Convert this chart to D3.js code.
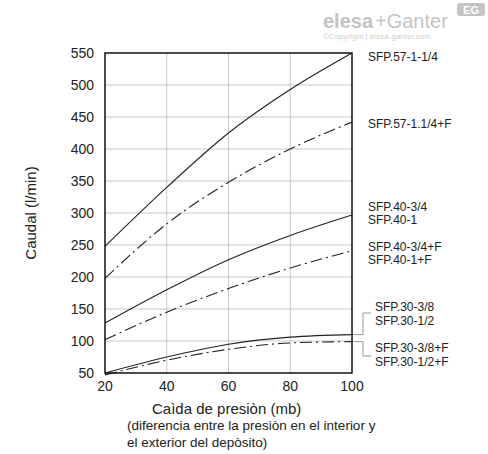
<!DOCTYPE html>
<html><head><meta charset="utf-8">
<script src="https://cdn.jsdelivr.net/npm/d3@7"></script>
<style>
body{margin:0;background:#fff;}
text{font-family:"Liberation Sans Narrow","Liberation Sans",Arial,sans-serif;fill:#222;}
</style></head><body>
<script>
const xs = [20, 40, 60, 80, 100];
const s57 = [248, 340, 425, 493, 550];
const s57F = [198, 283, 348, 400, 442];
const s40 = [128, 180, 227, 265, 297];
const s40F = [102, 145, 182, 214, 241];
const s30 = [50, 75, 95, 106, 110];
const s30F = [47, 70, 87, 97, 99];
const xTicks = [20, 40, 60, 80, 100];
const yTicks = [50, 100, 150, 200, 250, 300, 350, 400, 450, 500, 550];

const svg = d3.select("body").append("svg").attr("width", 488).attr("height", 454);
const x = d3.scaleLinear().domain([20, 100]).range([105, 352]);
const y = d3.scaleLinear().domain([50, 550]).range([373, 53]);

// grid
svg.append("g").selectAll("line").data(xTicks.slice(1, -1)).enter().append("line")
  .attr("x1", d => x(d)).attr("x2", d => x(d)).attr("y1", 53).attr("y2", 373)
  .attr("stroke", "#c8c8c8").attr("stroke-width", 1);
svg.append("g").selectAll("line").data(yTicks.slice(1, -1)).enter().append("line")
  .attr("x1", 105).attr("x2", 352).attr("y1", d => y(d)).attr("y2", d => y(d))
  .attr("stroke", "#c8c8c8").attr("stroke-width", 1);

// leader lines for small series
const lead = [[110, 313], [99, 356]];
lead.forEach(([v, ly]) => {
  svg.append("path").attr("fill", "none").attr("stroke", "#999").attr("stroke-width", 1)
    .attr("d", `M${x(100)},${y(v)}H363V${ly}H371`);
});

const line = d3.line().x((d, i) => x(xs[i])).y(d => y(d)).curve(d3.curveMonotoneX);
const series = [[s57, false], [s57F, true], [s40, false], [s40F, true], [s30, false], [s30F, true]];
series.forEach(([vals, dash]) => {
  svg.append("path").datum(vals).attr("d", line).attr("fill", "none")
    .attr("stroke", "#222").attr("stroke-width", 1.1)
    .attr("stroke-dasharray", dash ? "12,4,2,4" : null);
});

svg.append("rect").attr("x", 105).attr("y", 53).attr("width", 247).attr("height", 320)
  .attr("fill", "none").attr("stroke", "#111").attr("stroke-width", 1.5);

svg.append("g").selectAll("text").data(yTicks).enter().append("text")
  .attr("x", 94).attr("y", d => y(d) + 5).attr("text-anchor", "end")
  .style("font-size", "14px").text(d => d);
svg.append("g").selectAll("text").data(xTicks).enter().append("text")
  .attr("x", d => x(d)).attr("y", 391).attr("text-anchor", "middle")
  .style("font-size", "14px").text(d => d);

svg.append("text").attr("transform", "translate(36,213) rotate(-90)").attr("text-anchor", "middle")
  .style("font-size", "15px").style("font-family", "Liberation Sans, Arial, sans-serif").text("Caudal (l/min)");

const xt = ["Caìda de presiòn (mb)", "(diferencia entre la presiòn en el interior y", "el exterior del depòsito)"];
svg.append("g").selectAll("text").data(xt).enter().append("text")
  .attr("x", (d, i) => i === 0 ? 152 : 127).attr("y", (d, i) => i === 0 ? 414 : 413 + i * 17)
  .style("font-size", (d, i) => i === 0 ? "15px" : "13.5px")
  .style("font-family", "Liberation Sans, Arial, sans-serif").text(d => d);

const labels = [
  ["SFP.57-1-1/4", 368, 61], ["SFP.57-1.1/4+F", 368, 128],
  ["SFP.40-3/4", 368, 211], ["SFP.40-1", 368, 224],
  ["SFP.40-3/4+F", 368, 251], ["SFP.40-1+F", 368, 264],
  ["SFP.30-3/8", 375, 311], ["SFP.30-1/2", 375, 325],
  ["SFP.30-3/8+F", 375, 352], ["SFP.30-1/2+F", 375, 366]
];
svg.append("g").selectAll("text").data(labels).enter().append("text")
  .attr("x", d => d[1]).attr("y", d => d[2]).style("font-size", "12px").text(d => d[0]);

// logo
const logo = svg.append("g");
logo.append("text").attr("x", 323).attr("y", 28).style("font-size", "20px").style("font-weight", "bold")
  .style("font-family", "Liberation Sans, Arial, sans-serif").style("fill", "#c4c4c4").text("elesa");
logo.append("text").attr("x", 375).attr("y", 28).style("font-size", "20px")
  .style("font-family", "Liberation Sans, Arial, sans-serif").style("fill", "#c4c4c4").text("+Ganter");
logo.append("rect").attr("x", 457).attr("y", 3).attr("width", 28).attr("height", 13).attr("rx", 3).attr("fill", "#c4c4c4");
logo.append("text").attr("x", 471).attr("y", 14).attr("text-anchor", "middle").style("font-size", "11px")
  .style("font-weight", "bold").style("fill", "#fff").text("EG");
logo.append("text").attr("x", 323).attr("y", 39).style("font-size", "8px").style("fill", "#cfcfcf").text("©Copyright | elesa-ganter.com");
</script>
</body></html>
